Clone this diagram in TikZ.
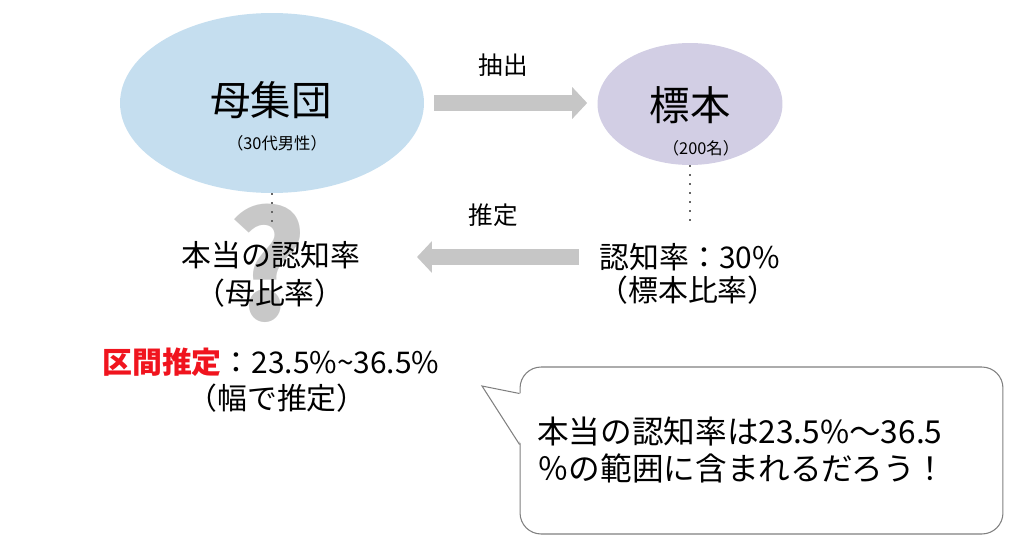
\documentclass[tikz,border=0pt]{standalone}
\usepackage{fontspec}
\setmainfont{Noto Sans CJK JP}
\usetikzlibrary{shapes.geometric,arrows.meta}

\definecolor{popblau}{RGB}{197,222,239}
\definecolor{stichlila}{RGB}{210,206,228}
\definecolor{pfeilgrau}{RGB}{198,198,198}
\definecolor{fragegrau}{RGB}{200,200,200}
\definecolor{blasengrau}{RGB}{128,128,128}
\definecolor{rot}{RGB}{240,20,30}

\begin{document}
\begin{tikzpicture}
	[
	x=0.02cm, y=-0.02cm, font=\fontsize{17}{21}\selectfont, >=latex,
	%Voreinstellungen
	menge/.style={ellipse, inner sep=0pt},
	gross/.style={font=\fontsize{23}{26}\selectfont},
	klein/.style={font=\fontsize{9.3}{11}\selectfont},
	mittel/.style={font=\fontsize{14}{16}\selectfont},
	blockpfeil/.style={draw=pfeilgrau, line width=9.6pt, -{Triangle[length=8.5pt, width=17.6pt]}},
	punkte/.style={draw=gray!80!black, line width=1pt, dash pattern=on 1.1pt off 4pt}
	]
	
	%Rahmen
	\useasboundingbox (0,0) rectangle (1024,544);
	
	%Grundgesamtheit
	\node[menge, fill=popblau, minimum width=6.08cm, minimum height=3.6cm] (pop) at (272,103) {};
	\node[gross] (poptitel) at (271,100) {母集団};
	\node[klein] (popzusatz) at (277,143) {（30代男性）};
	
	%Stichprobe
	\node[menge, fill=stichlila, minimum width=3.7cm, minimum height=2.44cm] (stich) at (690,104) {};
	\node[gross] (stichtitel) at (690,105) {標本};
	\node[klein] (stichzusatz) at (701,148) {（200名）};
	
	%Fragezeichen
	\node[font=\fontsize{85}{85}\selectfont\bfseries, text=fragegrau] (frage) at (268,263) {?};
	
	%Punktlinien
	\coordinate (punktL) at (272,225);
	\coordinate (punktR) at (690,223);
	\draw[punkte] (pop.south) -- (punktL);
	\draw[punkte] (stich.south) -- (punktR);
	
	%Texte unten
	\node (wahr) at (271,255) {本当の認知率};
	\node (wahrzusatz) at (270,293) {（母比率）};
	\node (stat) at (690,257) {認知率：30\%};
	\node (statzusatz) at (688,290) {（標本比率）};
	
	%Pfeil ziehen
	\draw[blockpfeil, shorten <=0.2cm, shorten >=0.2cm] (pop.east) -- (pop.east -| stich.west);
	\node[mittel] (ziehen) at (503,65) {抽出};
	
	%Pfeil schaetzen
	\coordinate (schaetzspitze) at (417,257);
	\draw[blockpfeil, shorten <=0.3cm] (stat.west) -- (schaetzspitze);
	\node[mittel] (schaetzen) at (493,215) {推定};
	
	%Intervall
	\node[anchor=west, inner xsep=0pt] (intervall) at (102,362) {\textcolor{rot}{\bfseries 区間推定}：23.5\%\textasciitilde 36.5\%};
	\node (breite) at (277,398) {（幅で推定）};
	
	%Sprechblase
	\node[draw=blasengrau, line width=0.6pt, rounded corners=12pt, fill=white, minimum width=9.66cm, minimum height=3.34cm] (blase) at (761.5,450.5) {};
	\coordinate (blasenspitze) at (482,386);
	\fill[white] ([shift={(2,27)}]blase.north west) -- (blasenspitze) -- ([shift={(2,78)}]blase.north west) -- cycle;
	\draw[blasengrau, line width=0.6pt] ([shift={(0,27)}]blase.north west) -- (blasenspitze) -- ([shift={(0,78)}]blase.north west);
	\node[anchor=west, align=left, inner sep=0pt, font=\fontsize{18}{20.5}\selectfont] (blasentext) at (537,450) {本当の認知率は23.5\%～36.5\\％の範囲に含まれるだろう！};
\end{tikzpicture}
\end{document}
